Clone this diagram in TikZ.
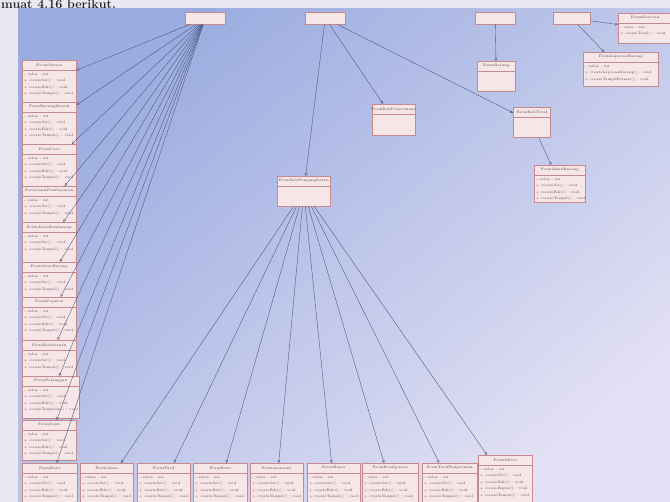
\documentclass[tikz,border=0pt]{standalone}
\usetikzlibrary{arrows.meta,calc}

\definecolor{pagebg}{RGB}{236,232,242}
\definecolor{bluetop}{RGB}{154,172,224}
\definecolor{bluebot}{RGB}{226,224,244}
\definecolor{boxfill}{RGB}{247,230,232}
\definecolor{boxdraw}{RGB}{198,138,140}
\definecolor{wire}{RGB}{70,82,120}
\definecolor{ink}{RGB}{92,62,66}

\tikzset{
  clsbox/.style={draw=boxdraw, fill=boxfill, line width=0.5pt, inner sep=0pt, rectangle},
  clstitle/.style={font=\fontsize{3.6}{4}\selectfont, text=ink, inner sep=0pt},
  clsattr/.style={font=\fontsize{3.4}{6.6}\selectfont, text=ink, align=left, inner sep=0pt, anchor=north west},
  link/.style={draw=wire, line width=0.35pt, -{Triangle[open,length=2.6pt,width=2.6pt]}},
}

% class box: name, x, y (top left), width, height, title, attributes
\newcommand\umlcls[7]{%
  \node[clsbox, minimum width=#4pt, minimum height=#5pt, anchor=north west] (#1) at (#2,#3) {};
  \draw[boxdraw, line width=0.4pt] ($(#1.north west)+(0,10)$) -- ($(#1.north east)+(0,10)$);
  \node[clstitle] (#1-t) at ($(#1.north)+(0,5)$) {#6};
  \node[clsattr] (#1-a) at ($(#1.north west)+(2,12.5)$) {#7};
}
% plain box without compartments
\newcommand\plaincls[5]{%
  \node[clsbox, minimum width=#4pt, minimum height=#5pt, anchor=north west] (#1) at (#2,#3) {};
}

\newcommand\attrsIV{- value : int\\+ createSet() : void\\+ createEdit() : void\\+ createTampil() : void}
\newcommand\attrsIII{- value : int\\+ createSet() : void\\+ createTampil() : void}

\begin{document}
\begin{tikzpicture}[x=1pt,y=-1pt]
\useasboundingbox (0,0) rectangle (670,502);

% page and diagram canvas
\fill[pagebg] (0,0) rectangle (670,502);
\shade[top color=bluetop, bottom color=bluebot, shading angle=40] (18,9) rectangle (670,502);
\node[anchor=base west, font=\bfseries\fontsize{12.5}{13}\selectfont, text=black!85, inner sep=0pt] (head) at (1,8.8) {muat 4.16 berikut.};

% top row parents
\plaincls{A}{185}{12}{40}{12}
\plaincls{B}{305}{12}{40}{12}
\plaincls{C}{475}{12}{40}{12}
\plaincls{D}{553}{12}{37}{12}

% left column
\umlcls{L1}{22}{60}{54}{42}{FormSatuan}{\attrsIV}
\umlcls{L2}{22}{102}{54}{42}{FormBarangMasuk}{\attrsIV}
\umlcls{L3}{22}{144}{54}{42}{FormUser}{\attrsIV}
\umlcls{L4}{22}{186}{54}{36}{FormJenisPembayaran}{\attrsIII}
\umlcls{L5}{22}{222}{54}{40}{FormJenisKendaraan}{\attrsIII}
\umlcls{L6}{22}{262}{54}{35}{FormJenisBarang}{\attrsIII}
\umlcls{L7}{22}{297}{54}{43}{FormPegawai}{\attrsIV}
\umlcls{L8}{22}{340}{54}{36}{FormKendaraan}{\attrsIII}
\umlcls{L9}{22}{376}{57}{42}{FormPelanggan}{- value : int\\+ createSet() : void\\+ createEdit() : void\\+ createTampilan() : void}
\umlcls{L10}{22}{420}{54}{40}{FormSopir}{\attrsIV}

% bottom row
\umlcls{K1}{22}{463}{55}{42}{FormKota}{\attrsIV}
\umlcls{K2}{80}{463}{53}{42}{FormJalan}{\attrsIV}
\umlcls{K3}{137}{463}{53}{42}{FormTarif}{\attrsIV}
\umlcls{K4}{193}{463}{54}{42}{FormRute}{\attrsIV}
\umlcls{K5}{250}{463}{53}{42}{FormAsuransi}{\attrsIV}
\umlcls{K6}{307}{463}{53}{42}{FormBiaya}{\attrsIV}
\umlcls{K7}{362}{463}{56}{42}{FormKonfigurasi}{\attrsIV}
\umlcls{K8}{422}{463}{55}{42}{FormTarifPengiriman}{\attrsIV}
\umlcls{M}{478}{455}{54}{52}{FormMitra}{- value : int\\+ createSet() : void\\+ createEdit() : void\\+ createHapus() : void\\+ createTampil() : void}

% middle and right classes
\umlcls{P}{277}{176}{53}{30}{FormBeliPengangkutan}{}
\umlcls{R}{372}{104}{43}{31}{FormBeliPenerimaan}{}
\umlcls{T}{513}{107}{37}{30}{FormBeliTotal}{}
\umlcls{U}{534}{165}{51}{37}{FormAkunBarang}{\attrsIV}
\umlcls{G}{477}{61}{38}{30}{FormBarang}{}
\umlcls{Y}{618}{13}{54}{30}{FormBayaran}{- value : int\\+ createTotal() : void}
\umlcls{Q}{583}{52}{75}{34}{FormLaporanBarang}{- value : int\\+ createLaporanBarang() : void\\+ createTampilFormat() : void}

% connectors
\foreach \n in {L1,L2,L3,L4,L5,L6,L7,L8,L9,L10,K1}
  \draw[link] (A) -- (\n);
\foreach \n in {P,R,T}
  \draw[link] (B) -- (\n);
\draw[link] (C) -- (G);
\draw[link] (D) -- (Y);
\draw[link] (D) -- (Q);
\draw[link] (T) -- (U);
\foreach \n in {K2,K3,K4,K5,K6,K7,K8,M}
  \draw[link] (P) -- (\n);

\end{tikzpicture}
\end{document}
